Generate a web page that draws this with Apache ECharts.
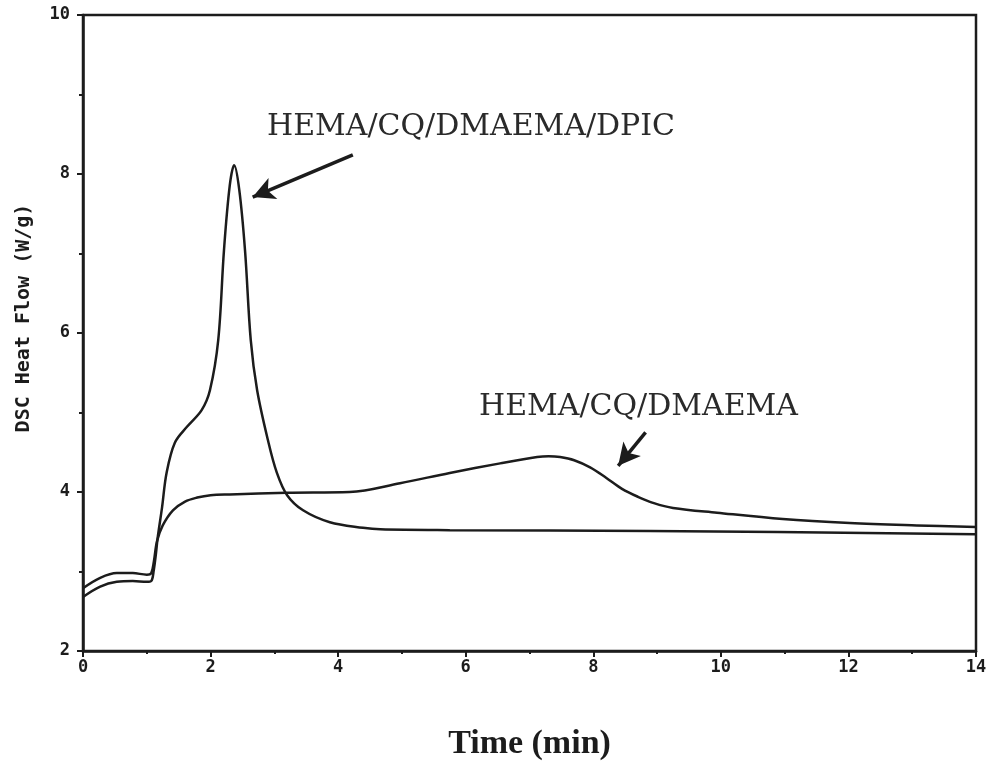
<!DOCTYPE html>
<html>
<head>
<meta charset="utf-8">
<script src="https://cdn.jsdelivr.net/npm/echarts@6/dist/echarts.min.js"></script>
<style>
  html, body { margin: 0; padding: 0; background: #fff; }
  #chart { width: 990px; height: 774px; }
</style>
</head>
<body>
<div id="chart"></div>
<script>
// time (min) and heat flow (W/g)
const dpicTime = [0, 0.27, 0.53, 0.78, 1.0, 1.07, 1.11, 1.14, 1.17, 1.24, 1.31, 1.44, 1.63, 1.86, 1.99, 2.12, 2.21, 2.30, 2.37, 2.45, 2.54, 2.63, 2.73, 2.90, 3.04, 3.20, 3.45, 3.87, 4.39, 4.66, 5.75, 8.89, 14];
const dpicFlow = [2.68, 2.81, 2.87, 2.88, 2.87, 2.88, 3.02, 3.20, 3.42, 3.81, 4.24, 4.62, 4.82, 5.03, 5.28, 5.91, 7.04, 7.85, 8.11, 7.80, 7.04, 5.91, 5.28, 4.65, 4.24, 3.96, 3.77, 3.62, 3.55, 3.53, 3.52, 3.51, 3.47];

const baseTime = [0, 0.27, 0.53, 0.78, 1.0, 1.07, 1.11, 1.16, 1.25, 1.41, 1.60, 1.79, 2.0, 2.30, 3.20, 4.18, 4.97, 5.75, 6.54, 7.12, 7.30, 7.48, 7.70, 7.95, 8.2, 8.45, 8.7, 8.95, 9.25, 9.94, 10.97, 12.02, 13.07, 14];
const baseFlow = [2.79, 2.92, 2.98, 2.98, 2.96, 2.98, 3.12, 3.38, 3.58, 3.77, 3.88, 3.93, 3.96, 3.97, 3.99, 4.00, 4.11, 4.24, 4.36, 4.44, 4.45, 4.44, 4.40, 4.31, 4.18, 4.04, 3.94, 3.86, 3.80, 3.74, 3.66, 3.61, 3.58, 3.56];

const seriesNames = ["HEMA/CQ/DMAEMA/DPIC", "HEMA/CQ/DMAEMA"];
const yTitle = "DSC Heat Flow (W/g)";

// arrows: [from, to] in data coords
const dpicArrow = [[4.23, 8.24], [2.66, 7.71]];
const baseArrow = [[8.82, 4.75], [8.39, 4.33]];

const ink = "#1c1c1c";

const zip = (xs, ys) => xs.map((x, i) => [x, ys[i]]);

const arrowLine = (pts) => ({
  silent: true,
  symbol: ["none", "arrow"],
  symbolSize: [17, 22],
  label: { show: false },
  lineStyle: { color: ink, width: 3.5, type: "solid" },
  data: [[{ coord: pts[0] }, { coord: pts[1] }]],
});

const tickFont = {
  fontFamily: "DejaVu Sans Mono",
  fontWeight: "bold",
  fontSize: 17,
  color: ink,
};

const buildOption = () => ({
  animation: false,
  grid: { left: 83, right: 14, top: 15, bottom: 123, show: true, borderColor: ink, borderWidth: 2.5 },
  xAxis: {
    type: "value",
    min: 0,
    max: 14,
    interval: 2,
    name: "Time (min)",
    nameLocation: "middle",
    nameGap: 76,
    nameTextStyle: { fontFamily: "Liberation Serif", fontWeight: "bold", fontSize: 34, color: ink },
    axisLine: { lineStyle: { color: ink, width: 2.5 } },
    axisTick: { length: 6, lineStyle: { color: ink, width: 2 } },
    minorTick: { show: true, splitNumber: 2, length: 3, lineStyle: { color: ink, width: 2 } },
    axisLabel: Object.assign({ margin: 8 }, tickFont),
    splitLine: { show: false },
  },
  yAxis: {
    type: "value",
    min: 2,
    max: 10,
    interval: 2,
    axisLine: { lineStyle: { color: ink, width: 2.5 } },
    axisTick: { length: 6, lineStyle: { color: ink, width: 2 } },
    minorTick: { show: true, splitNumber: 2, length: 4, lineStyle: { color: ink, width: 2 } },
    axisLabel: Object.assign({ margin: 13 }, tickFont),
    splitLine: { show: false },
  },
  graphic: [
    {
      type: "text",
      x: 24,
      y: 318,
      rotation: Math.PI / 2,
      style: {
        text: yTitle,
        font: "bold 20px 'DejaVu Sans Mono'",
        fill: ink,
        align: "center",
        verticalAlign: "middle",
      },
    },
    {
      type: "text",
      left: 267,
      top: 112,
      style: { text: seriesNames[0], font: "30px 'DejaVu Serif'", fill: "#2a2a2a" },
    },
    {
      type: "text",
      left: 479,
      top: 392,
      style: { text: seriesNames[1], font: "30px 'DejaVu Serif'", fill: "#2a2a2a" },
    },
  ],
  series: [
    {
      name: seriesNames[0],
      type: "line",
      data: zip(dpicTime, dpicFlow),
      smooth: 0.35,
      showSymbol: false,
      lineStyle: { color: ink, width: 2.5 },
      markLine: arrowLine(dpicArrow),
    },
    {
      name: seriesNames[1],
      type: "line",
      data: zip(baseTime, baseFlow),
      smooth: 0.35,
      showSymbol: false,
      lineStyle: { color: ink, width: 2.5 },
      markLine: arrowLine(baseArrow),
    },
  ],
});

const chart = echarts.init(document.getElementById("chart"));
chart.setOption(buildOption());
</script>
</body>
</html>
